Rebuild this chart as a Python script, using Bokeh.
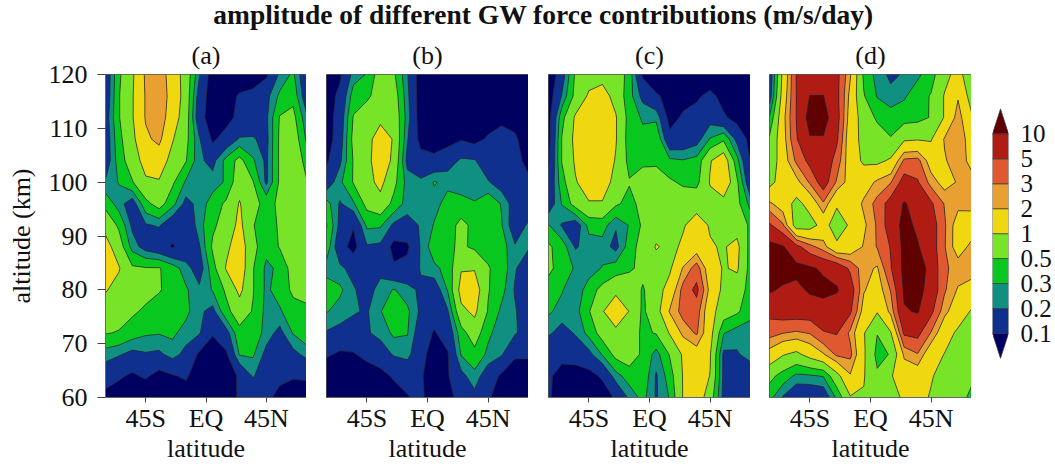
import numpy as np
from bokeh.core.properties import value
from bokeh.embed import file_html
from bokeh.layouts import column, row
from bokeh.models import FixedTicker, LinearAxis, Range1d
from bokeh.plotting import figure
from bokeh.resources import INLINE

FONT = "Liberation Serif"
TITLE = "amplitude of different GW force contributions (m/s/day)"
XLABEL = "latitude"
YLABEL = "altitude (km)"
panel_names = ["(a)", "(b)", "(c)", "(d)"]
lat_ticks = [-45, 0, 45]
lat_labels = ["45S", "EQ", "45N"]
alt_ticks = [60, 70, 80, 90, 100, 110, 120]
levels_label = ["0.1", "0.2", "0.3", "0.5", "1", "2", "3", "5", "10"]
levels_value = [0.1, 0.2, 0.3, 0.5, 1, 2, 3, 5, 10]
colors = ["#000060", "#103090", "#0F9080", "#08C820", "#78E428", "#F0D810",
          "#E8A030", "#E05830", "#B01C14", "#600000"]

lats = [-75, -65, -55, -45, -35, -25, -15, -5, 5, 15, 25, 35, 45, 55, 65, 75]
alts = [120, 116, 112, 108, 104, 100, 96, 92, 88, 84, 80, 76, 72, 68, 64, 60]

panel_a = [
 [.13,.45,.9,2.2,2.7,1.5,.75,.21,.07,.06,.06,.06,.09,.22,.33,.12],
 [.13,.48,.95,2.1,2.8,1.6,.75,.15,.07,.07,.11,.13,.17,.33,.42,.14],
 [.15,.48,.95,2.1,2.8,1.4,.7,.13,.07,.08,.12,.14,.18,.52,.6,.22],
 [.14,.42,.85,1.8,2.3,1.05,.6,.21,.09,.13,.21,.21,.17,.55,.75,.28],
 [.14,.38,.7,1.3,1.4,.8,.52,.22,.17,.35,.6,.32,.18,.55,.75,.42],
 [.21,.31,.48,.9,.95,.55,.28,.22,.24,.32,.75,.52,.18,.55,.8,.52],
 [.42,.24,.15,.42,.65,.35,.17,.23,.38,.55,1.05,.6,.42,.55,.7,.65],
 [.8,.45,.18,.19,.21,.13,.12,.25,.45,.65,1.2,.52,.35,.55,.7,.7],
 [1.3,.7,.25,.16,.13,.095,.13,.19,.55,.85,1.5,.6,.35,.52,.7,.7],
 [1.4,1.05,.55,.52,.52,.38,.24,.15,.4,1.05,1.6,.52,.27,.33,.65,.7],
 [1.05,.8,.65,.62,.52,.42,.32,.22,.31,.55,1.2,.52,.27,.38,.55,.6],
 [.75,.65,.55,.45,.4,.38,.34,.22,.17,.42,.7,.48,.26,.28,.42,.45],
 [.52,.48,.38,.32,.31,.33,.25,.21,.11,.16,.42,.42,.25,.17,.31,.42],
 [.24,.21,.17,.19,.18,.24,.17,.09,.06,.09,.31,.32,.17,.14,.17,.23],
 [.14,.11,.09,.11,.08,.095,.11,.07,.05,.07,.11,.21,.14,.12,.11,.11],
 [.08,.07,.06,.06,.06,.06,.07,.06,.05,.07,.11,.14,.12,.08,.06,.07],
]
panel_b = [
 [.06,.09,.24,.31,.7,.55,.21,.07,.06,.06,.06,.06,.06,.06,.06,.06],
 [.07,.12,.38,.45,.65,.7,.23,.07,.06,.06,.06,.06,.07,.07,.07,.06],
 [.07,.14,.52,.7,.85,.8,.25,.07,.06,.06,.06,.06,.07,.085,.08,.07],
 [.07,.15,.6,.8,1.4,.95,.21,.08,.07,.08,.095,.08,.11,.13,.11,.07],
 [.09,.18,.52,.8,1.6,.85,.17,.13,.12,.15,.22,.21,.13,.14,.12,.085],
 [.14,.27,.52,.8,1.2,.6,.25,.22,.31,.27,.25,.24,.21,.15,.13,.11],
 [.36,.19,.28,.6,.8,.42,.25,.28,.26,.35,.34,.31,.42,.29,.15,.12],
 [.52,.17,.105,.33,.32,.18,.16,.21,.31,.38,.6,.42,.4,.31,.14,.22],
 [.4,.13,.08,.19,.18,.08,.09,.21,.4,.45,.55,.45,.42,.38,.21,.21],
 [.25,.22,.17,.14,.17,.11,.12,.21,.27,.35,.95,.95,.52,.4,.21,.14],
 [.38,.33,.21,.16,.24,.31,.24,.18,.14,.31,1.3,1.5,.52,.35,.19,.13],
 [.31,.25,.21,.19,.29,.45,.33,.18,.13,.19,.85,1.15,.48,.27,.21,.14],
 [.19,.17,.16,.19,.23,.33,.31,.14,.095,.13,.4,.7,.33,.24,.21,.16],
 [.11,.09,.095,.12,.15,.21,.23,.13,.07,.095,.31,.42,.27,.21,.11,.11],
 [.06,.06,.07,.07,.08,.11,.13,.11,.065,.095,.17,.26,.14,.09,.07,.07],
 [.05,.05,.05,.05,.06,.07,.095,.12,.06,.08,.13,.17,.11,.07,.05,.05],
]
panel_c = [
 [.06,.15,.55,.75,.8,.75,.4,.09,.06,.06,.06,.06,.06,.06,.06,.06],
 [.07,.21,.6,1.1,1.3,.8,.36,.17,.11,.08,.08,.09,.12,.08,.06,.06],
 [.08,.42,1.1,1.4,1.5,1.05,.4,.28,.27,.08,.11,.13,.16,.11,.08,.07],
 [.08,.52,1.2,1.6,1.6,1.05,.38,.35,.45,.12,.13,.16,.31,.45,.17,.08],
 [.09,.52,1.1,1.5,1.6,.95,.42,.42,.42,.33,.31,.35,.95,1.6,.35,.095],
 [.12,.4,.95,1.4,1.4,.8,.52,.75,.8,.55,.45,.42,1.05,1.9,.55,.12],
 [.14,.31,.65,.95,.95,.55,.42,.6,.75,.75,.75,.8,.8,.75,.6,.25],
 [.31,.19,.14,.35,.37,.21,.31,.55,.75,.85,.95,1.3,.95,.9,.75,.45],
 [.55,.38,.19,.24,.25,.17,.38,.65,1.05,.85,1.1,1.5,1.05,.95,1.2,.4],
 [.55,.42,.28,.24,.31,.38,.45,.6,.75,.9,2.1,3.8,1.4,.95,1.1,.4],
 [.42,.31,.22,.38,.6,.85,.8,.47,.75,1.3,3.6,5.8,1.7,.85,.7,.4],
 [.32,.26,.25,.48,.95,1.6,.98,.45,.75,2.1,3.6,3.8,1.3,.7,.55,.35],
 [.22,.16,.21,.35,.65,.85,.7,.45,.52,1.05,2.3,3.2,1.3,.31,.24,.24],
 [.11,.12,.14,.17,.31,.6,.7,.45,.25,.52,1.1,1.5,1.05,.18,.19,.24],
 [.11,.08,.07,.08,.11,.25,.38,.42,.19,.38,1.05,1.5,.98,.18,.14,.14],
 [.11,.07,.06,.06,.07,.11,.22,.35,.19,.31,1.05,1.5,.7,.17,.14,.14],
]
panel_d = [
 [.13,1.2,5.2,7,7.5,6,2.1,.45,.25,.18,.21,.27,.4,.8,1.3,.6],
 [.15,1.4,5.1,10.1,10.1,6,1.7,.52,.29,.23,.28,.4,.52,1.05,1.9,.75],
 [.31,1.7,5.1,13,13,6.5,1.5,.75,.45,.38,.4,.42,.52,1.05,2.5,1.1],
 [.55,1.6,4.8,9.5,9.5,5.5,1.3,.85,.7,.52,.9,.95,.95,2.1,2.8,1.5],
 [.6,1.5,3.3,6,8,4,1.4,.9,.85,1.1,3.3,3.5,1.5,1.9,2.6,1.7],
 [.8,1.4,1.7,3.2,7,2.8,1.6,1.5,2.2,2.9,6.5,5.3,2.5,1.6,2.1,2.4],
 [2.2,1.5,.8,1.3,2.8,1.1,1.3,2.2,3.5,6.5,10.5,8,5.5,2.9,2.3,2.4],
 [5.5,3.2,.7,.75,1.3,.7,1.1,1.8,3.2,7,12,9,7,3.2,1.5,1.4],
 [12,10.5,6,3.5,2.4,1.15,1.3,2.1,3.1,5.2,12,10.5,7,3.1,1.5,2.3],
 [13,14,12,11,9,8,4.5,2.3,1.9,4.8,12,14,8,3.2,2.6,2.5],
 [11,9,8.5,11,12,10.5,7,2.1,1.5,3.1,11,12,8,3.2,1.9,1.6],
 [6,7,7,7,7.5,7.5,5.5,1.6,1.05,2.3,9.5,10.5,5.8,2.3,1.4,.95],
 [3.6,3.05,2.8,3.1,4.8,5.2,2.7,1.05,.51,.95,5.5,6,2.9,1.3,.9,.75],
 [1.6,1.05,.85,1.3,1.9,3.3,3.4,1.1,.42,.52,2.2,2.9,1.3,.98,.75,.52],
 [.6,.4,.27,.28,.31,.8,1.9,1.05,.55,.95,1.4,1.4,1.05,.8,.7,.55],
 [.35,.19,.12,.12,.13,.33,.95,.95,.7,.8,1.1,1.2,.95,.75,.6,.45],
]
grids = [panel_a, panel_b, panel_c, panel_d]

contour_levels = np.log10([0.001] + levels_value + [1000])
lat_arr = np.array(lats, dtype=float)
alt_arr = np.array(alts[::-1], dtype=float)

FS = "26px"
TOP, FRAME_H, BOTTOM = 41, 323, 68
HEAD_H = 33
frame_ws = [201, 202, 202, 202]
lefts = [105, 20, 20, 19]


def style_axis(ax):
    ax.axis_line_color = "#666666"
    ax.major_tick_line_color = "#444444"
    ax.minor_tick_line_color = None
    ax.major_tick_in = 0
    ax.major_label_text_font = FONT
    ax.major_label_text_font_size = FS
    ax.major_label_text_color = "#111111"
    ax.axis_label_text_font = FONT
    ax.axis_label_text_font_size = FS
    ax.axis_label_text_font_style = "normal"
    ax.axis_label_text_color = "#111111"


panels = []
for i, grid in enumerate(grids):
    p = figure(width=lefts[i] + frame_ws[i], height=TOP + FRAME_H + BOTTOM,
               x_range=Range1d(-75, 75), y_range=Range1d(60, 120),
               output_backend="svg", toolbar_location=None,
               min_border_left=lefts[i], min_border_right=0,
               min_border_top=TOP, min_border_bottom=BOTTOM,
               y_axis_location="left" if i == 0 else None)
    z = np.log10(np.array(grid, dtype=float))[::-1]
    p.contour(lat_arr, alt_arr, z, contour_levels, fill_color=colors,
              line_color="#2a2a2a", line_width=0.7)
    p.grid.visible = False
    p.outline_line_color = "#555555"
    p.outline_line_width = 1
    p.background_fill_color = colors[0]
    p.title.text = panel_names[i]
    p.title.align = "center"
    p.title.text_font = FONT
    p.title.text_font_size = FS
    p.title.text_font_style = "normal"
    p.title.text_color = "#111111"
    p.title.standoff = 9
    xa = p.xaxis[0]
    xa.ticker = FixedTicker(ticks=lat_ticks)
    xa.major_label_overrides = dict(zip(lat_ticks, lat_labels))
    xa.axis_label = XLABEL
    xa.major_tick_out = 5
    xa.major_label_standoff = 1
    xa.axis_label_standoff = -2
    style_axis(xa)
    if i == 0:
        ya = p.yaxis[0]
        ya.ticker = FixedTicker(ticks=alt_ticks)
        ya.axis_label = YLABEL
        ya.major_tick_out = 8
        ya.major_label_standoff = 10
        ya.axis_label_standoff = 10
        ya.major_label_orientation = "horizontal"
        style_axis(ya)
    panels.append(p)

# colour bar: one box per level interval, triangles for the open ends
n = len(levels_value)
cb = figure(width=83, height=TOP + FRAME_H + BOTTOM,
            x_range=Range1d(0, 1), y_range=Range1d(-2.57, 10.38),
            output_backend="svg", toolbar_location=None,
            min_border_left=21, min_border_right=43,
            min_border_top=TOP, min_border_bottom=BOTTOM,
            x_axis_location=None, y_axis_location=None)
cb.grid.visible = False
cb.outline_line_color = None
idx = np.arange(n - 1)
cb.quad(left=0, right=1, bottom=idx, top=idx + 1, fill_color=colors[1:-1],
        line_color="#333333", line_width=0.7)
cb.patch([0, 1, 0.5], [0, 0, -1], fill_color=colors[0], line_color="#333333", line_width=0.7)
cb.patch([0, 1, 0.5], [n - 1, n - 1, n], fill_color=colors[-1], line_color="#333333", line_width=0.7)
ax = LinearAxis(ticker=FixedTicker(ticks=list(range(n))),
                major_label_overrides=dict(zip(range(n), levels_label)))
style_axis(ax)
ax.major_label_text_font_size = "25px"
ax.axis_line_color = None
ax.major_tick_line_color = None
ax.major_tick_out = 0
ax.major_label_standoff = 12
cb.add_layout(ax, "right")

head = figure(width=1047, height=HEAD_H, output_backend="svg", toolbar_location=None,
              min_border_left=39, min_border_right=0, min_border_top=0, min_border_bottom=0,
              x_range=Range1d(0, 1), y_range=Range1d(0, HEAD_H),
              x_axis_location=None, y_axis_location=None)
head.grid.visible = False
head.outline_line_color = None
head.text(x=[0.5], y=[HEAD_H - 14], text=[TITLE], text_font=value(FONT),
          text_font_size="27.5px", text_font_style="bold", text_color="#111111",
          text_align="center", text_baseline="middle")

page = column(head, row(*panels, cb, spacing=0), spacing=0)
open("out.html", "w").write(file_html(page, INLINE))
